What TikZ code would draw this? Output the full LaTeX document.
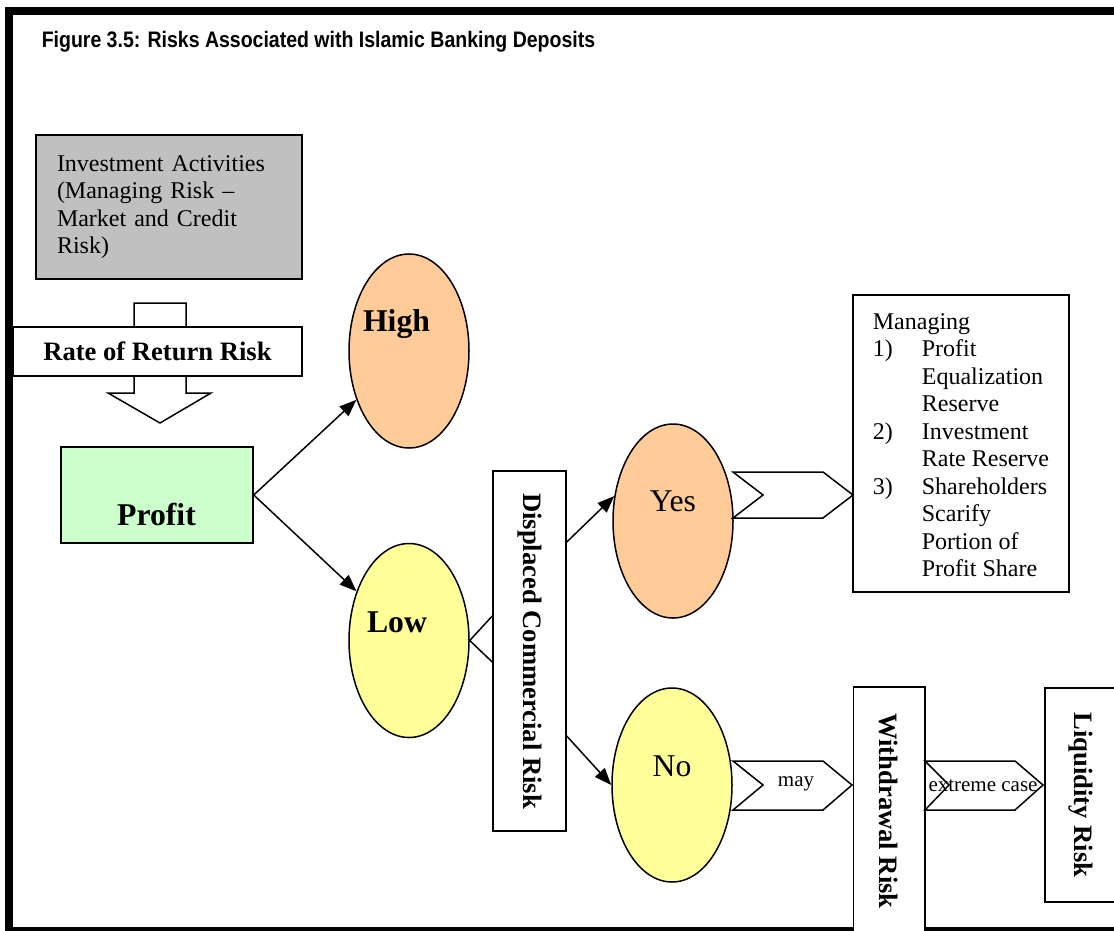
\documentclass[tikz,border=0pt]{standalone}
\usepackage{fontspec}
\usepackage{graphicx}
\setmainfont{Liberation Serif}
\newfontfamily\headfont{Liberation Sans}
\usetikzlibrary{arrows.meta,shapes.geometric}

\definecolor{investgray}{HTML}{C0C0C0}
\definecolor{profitgreen}{HTML}{CCFFCC}
\definecolor{highorange}{HTML}{FFCC99}
\definecolor{lowyellow}{HTML}{FFFF99}

\tikzset{
  box/.style={draw, line width=1.5pt, rectangle, inner sep=0pt},
  oval/.style={draw, line width=1.5pt, ellipse, minimum width=120pt, minimum height=194pt, inner sep=0pt},
  chev/.style={draw, line width=1.5pt, fill=white},
  bigbold/.style={font=\fontsize{26.6}{30}\selectfont\bfseries},
  ovaltext/.style={font=\fontsize{31.7}{36}\selectfont, anchor=base, inner sep=0pt},
  plain/.style={font=\fontsize{24}{27.5}\selectfont},
  small/.style={font=\fontsize{21}{24}\selectfont, anchor=base, inner sep=0pt}
}

\begin{document}
\begin{tikzpicture}[x=1pt, y=-1pt, >={Triangle[length=17pt,width=13pt]}, line width=1.5pt]
\useasboundingbox (0,0) rectangle (1114,930);

% frame and title
\draw[line width=8pt] (1130,11) -- (9,11) -- (9,931) -- (1130,931);
\node[anchor=base west, inner sep=0pt, font=\headfont\bfseries\fontsize{19.5}{22}\selectfont] (title) at (41,47)
  {\scalebox{1}[1.15]{Figure 3.5: Risks Associated with Islamic Banking Deposits}};

% left column
\node[box, fill=investgray, plain, align=left, text width=224pt, inner xsep=21pt, minimum height=144pt] (invest) at (169,207)
  {Investment Activities\\(Managing Risk --\\Market and Credit\\Risk)};
\draw[chev] (134,303) -- (186,303) -- (186,393) -- (211,393) -- (160,423) -- (108,393) -- (134,393) -- cycle;
\node[box, fill=white, bigbold, minimum width=289pt, minimum height=49pt] (rorr) at (157.5,351.5) {Rate of Return Risk};

\node[box, fill=profitgreen, minimum width=192pt, minimum height=96pt] (profit) at (157,495) {};
\node[ovaltext, font=\fontsize{31.7}{36}\selectfont\bfseries] (profittext) at (156.5,525) {Profit};

% high / low
\node[oval, fill=highorange] (high) at (409,351) {};
\node[oval, fill=lowyellow] (low) at (409,640.5) {};
\node[ovaltext, font=\fontsize{31.7}{36}\selectfont\bfseries] (hightext) at (396.5,331) {High};
\node[ovaltext, font=\fontsize{31.7}{36}\selectfont\bfseries] (lowtext) at (397,632) {Low};

\draw[->] (profit.east) -- (high);
\draw[->] (profit.east) -- (low);

% displaced commercial risk
\node[box, fill=white, bigbold, minimum width=73pt, minimum height=360pt] (dcr) at (529.5,651) {\rotatebox{-90}{Displaced Commercial Risk}};
\draw (low.east) -- ([yshift=35pt]dcr.west);
\draw (low.east) -- ([yshift=-11pt]dcr.west);

\node[oval, fill=highorange] (yes) at (673,521) {};
\node[oval, fill=lowyellow] (no) at (672,785) {};
\node[ovaltext] (yestext) at (673,511) {Yes};
\node[ovaltext] (notext) at (672,776) {No};

\draw[->] ([yshift=109pt]dcr.east) -- (yes.157);
\draw[->] ([yshift=-85pt]dcr.east) -- (no.west);

% yes branch
\draw[chev] (733,472) -- (823,472) -- (853,495) -- (823,518) -- (733,518) -- (763,495) -- cycle;
\node[box, fill=white, plain, minimum width=216pt, minimum height=297pt] (manage) at (961,443.5)
  {\raisebox{-4pt}[\height][\depth]{\begin{tabular}{@{}p{49pt}@{}l@{}}
   \multicolumn{2}{@{}l@{}}{Managing}\\
   1) & Profit\\
      & Equalization\\
      & Reserve\\
   2) & Investment\\
      & Rate Reserve\\
   3) & Shareholders\\
      & Scarify\\
      & Portion of\\
      & Profit Share
   \end{tabular}}};

% no branch
\draw[chev] (733,761) -- (823,761) -- (852,785) -- (823,810) -- (733,810) -- (763,785) -- cycle;
\node[small] (maytext) at (796,786) {may};
\node[box, fill=white, bigbold, minimum width=71.5pt, minimum height=248pt] (withdraw) at (889,811) {\rotatebox{-90}{Withdrawal Risk}};
\draw[chev] (925,761) -- (1015,761) -- (1043,785) -- (1015,810) -- (925,810) -- (949,785) -- cycle;
\node[small] (extremetext) at (983,791) {extreme case};
\node[box, fill=white, bigbold, minimum width=71pt, minimum height=214pt] (liquid) at (1080.5,795) {\rotatebox{-90}{Liquidity Risk}};

\end{tikzpicture}
\end{document}
